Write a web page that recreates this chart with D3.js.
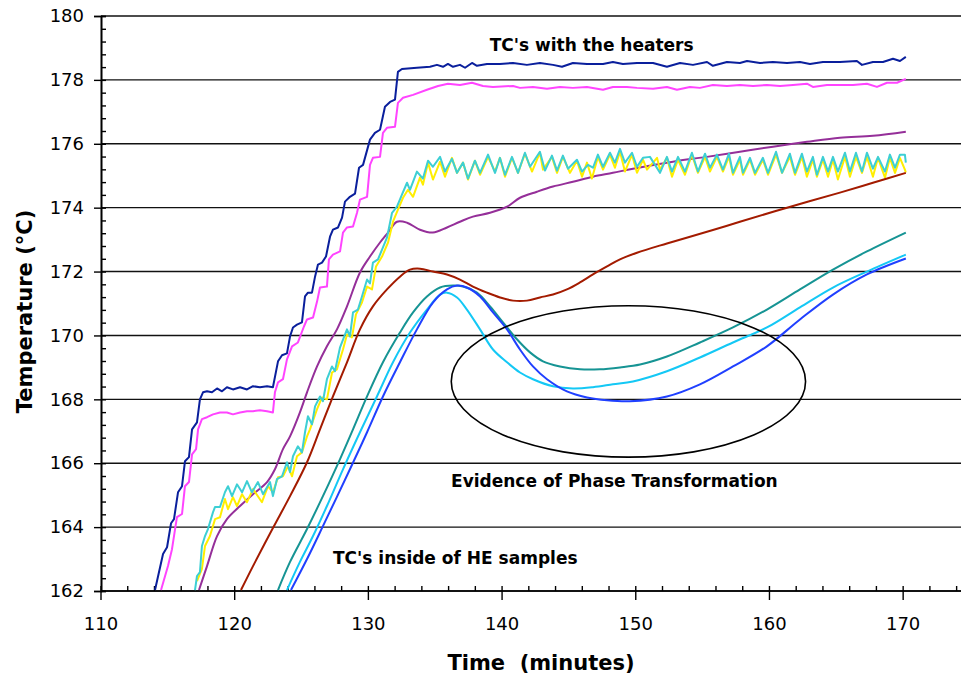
<!DOCTYPE html>
<html>
<head>
<meta charset="utf-8">
<script src="https://cdn.jsdelivr.net/npm/d3@7"></script>
<style>
  body { margin: 0; background: #fff; }
  svg text { font-family: "DejaVu Sans", sans-serif; fill: #000; }
</style>
</head>
<body>
<div id="chart"></div>
<script>
// ---- data: [time (minutes), temperature (°C)] ----
const heaterNavy = [
  [114.04,162.03],[114.64,163.16],[114.94,163.37],[115.24,164.12],[115.46,164.25],[115.76,165.09],
  [116.06,165.28],[116.28,166.06],[116.58,166.19],[116.81,167.06],[117.18,167.28],[117.40,168.0],
  [117.63,168.22],[117.93,168.25],[118.30,168.22],[118.68,168.34],[119.05,168.25],[119.42,168.38],
  [119.87,168.31],[120.40,168.38],[120.92,168.31],[121.37,168.41],[121.89,168.38],[122.42,168.41],
  [122.86,168.38],[123.24,169.19],[123.54,169.38],[123.91,169.44],[124.14,169.97],[124.36,170.25],
  [124.66,170.34],[125.03,170.41],[125.26,171.22],[125.48,171.34],[125.78,171.34],[126.01,171.84],
  [126.23,172.22],[126.53,172.28],[126.83,172.47],[127.13,173.09],[127.35,173.31],[127.73,173.38],
  [128.03,173.69],[128.25,174.19],[128.62,174.34],[129.0,174.44],[129.30,175.25],[129.60,175.34],
  [130.12,176.13],[130.49,176.34],[130.87,176.44],[131.24,177.16],[131.62,177.31],[131.99,177.38],
  [132.21,178.25],[132.51,178.34],[133.63,178.38],[134.61,178.41],[135.13,178.47],[135.58,178.41],
  [135.95,178.5],[136.33,178.41],[136.85,178.47],[137.23,178.38],[137.75,178.53],[138.12,178.44],
  [138.87,178.5],[139.84,178.5],[140.82,178.53],[141.86,178.47],[142.83,178.53],[143.81,178.47],
  [144.48,178.41],[145.30,178.53],[146.35,178.5],[147.55,178.5],[148.29,178.56],[149.04,178.5],
  [150.09,178.53],[151.29,178.53],[152.33,178.41],[153.31,178.53],[154.28,178.47],[155.33,178.56],
  [155.77,178.44],[156.82,178.56],[157.79,178.53],[158.32,178.59],[159.29,178.53],[160.26,178.56],
  [161.31,178.53],[162.28,178.56],[163.03,178.5],[164.0,178.56],[165.27,178.56],[166.54,178.59],
  [166.92,178.47],[167.74,178.56],[168.49,178.56],[169.24,178.66],[169.76,178.59],[170.2,178.72]
];

const heaterMagenta = [
  [114.49,162.03],[115.01,162.78],[115.31,163.31],[115.68,164.31],[116.06,164.41],[116.28,165.28],
  [116.58,165.41],[116.81,166.28],[117.11,166.44],[117.26,167.06],[117.55,167.38],[117.93,167.44],
  [118.38,167.53],[118.90,167.59],[119.42,167.59],[119.87,167.53],[120.40,167.59],[120.92,167.63],
  [121.37,167.63],[121.89,167.66],[122.42,167.63],[122.86,167.59],[123.01,168.22],[123.24,168.53],
  [123.61,168.63],[123.91,169.25],[124.29,169.66],[124.73,169.78],[125.18,170.28],[125.41,170.5],
  [125.86,170.56],[126.16,171.06],[126.38,171.5],[126.90,171.53],[127.05,172.38],[127.35,172.53],
  [127.88,172.63],[128.10,173.22],[128.40,173.38],[128.85,173.41],[129.15,173.84],[129.37,174.25],
  [129.90,174.34],[130.12,175.34],[130.34,175.56],[130.87,175.59],[131.09,176.34],[131.39,176.5],
  [131.99,176.53],[132.21,177.28],[132.59,177.44],[133.34,177.53],[134.38,177.69],[135.21,177.81],
  [135.95,177.88],[136.85,177.84],[137.75,177.91],[138.57,177.81],[139.32,177.78],[140.82,177.81],
  [141.34,177.75],[142.31,177.78],[143.36,177.72],[144.33,177.78],[145.30,177.75],[146.35,177.78],
  [147.55,177.69],[148.29,177.78],[149.34,177.78],[150.09,177.75],[151.29,177.72],[152.33,177.78],
  [153.08,177.69],[154.05,177.78],[154.80,177.75],[155.77,177.84],[156.82,177.81],[157.79,177.84],
  [158.77,177.81],[159.81,177.84],[160.79,177.81],[161.76,177.84],[162.80,177.88],[163.25,177.78],
  [164.30,177.84],[165.27,177.84],[166.25,177.84],[167.29,177.88],[168.04,177.78],[168.79,177.91],
  [169.54,177.91],[170.2,178.03]
];

const purpleSeries = [
  [117.33,162.03],[117.93,162.78],[118.68,163.72],[119.42,164.25],[120.40,164.66],[121.37,165.03],
  [122.42,165.41],[123.01,165.81],[123.61,166.44],[124.14,166.84],[124.88,167.59],[125.41,168.22],
  [126.16,169.03],[126.90,169.66],[127.65,170.19],[128.40,170.91],[129.37,171.97],[130.12,172.47],
  [130.87,172.91],[131.47,173.22],[132.14,173.56],[132.89,173.53],[133.86,173.31],[134.83,173.22],
  [135.88,173.38],[136.85,173.56],[137.82,173.72],[139.10,173.84],[140.37,174.03],[141.34,174.31],
  [142.61,174.5],[143.81,174.66],[145.30,174.81],[146.80,174.97],[148.29,175.09],[149.79,175.22],
  [152.78,175.44],[155.32,175.59],[157.79,175.75],[160.26,175.91],[162.80,176.06],[165.27,176.19],
  [167.74,176.25],[170.2,176.38]
];

const yellowSeries = [
  [117.18,162.31],[117.55,162.69],[117.78,163.41],[118.15,163.72],[118.53,164.25],[118.90,164.31],
  [119.27,164.88],[119.50,164.56],[119.87,164.94],[120.17,164.66],[120.55,165.03],[120.92,164.78],
  [121.37,165.19],[122.04,164.78],[122.49,165.28],[122.86,165.09],[123.24,165.56],[123.61,165.59],
  [123.99,165.91],[124.29,165.59],[124.66,166.22],[125.03,166.34],[125.41,166.84],[125.63,167.06],
  [126.16,167.69],[126.53,168.06],[126.90,168.0],[127.28,168.84],[127.65,168.94],[128.10,169.56],
  [128.40,170.03],[128.77,169.94],[129.07,170.66],[129.52,171.03],[129.90,171.53],[130.27,171.44],
  [130.57,172.16],[131.02,172.47],[131.47,172.91],[131.84,173.56],[132.21,173.94],[132.59,174.31],
  [132.96,174.56],[133.34,174.34],[133.86,174.94],[134.08,174.72],[134.46,175.41],[134.83,174.88],
  [135.36,175.44],[135.73,174.97],[136.25,175.56],[136.63,175.09],[137.08,175.41],[137.45,174.88],
  [137.97,175.47],[138.35,175.03],[138.95,175.59],[139.47,175.13],[139.84,175.56],[140.22,174.97],
  [140.74,175.56],[141.19,175.09],[141.71,175.69],[142.24,175.13],[142.83,175.72],[143.06,175.19],
  [143.73,175.59],[144.11,175.09],[144.55,175.59],[145.08,175.09],[145.60,175.47],[145.98,174.97],
  [146.35,175.41],[146.72,174.91],[147.17,175.59],[147.55,175.19],[148.07,175.66],[148.44,175.25],
  [148.82,175.75],[149.19,175.13],[149.72,175.66],[150.09,175.09],[150.54,175.5],[150.84,175.19],
  [151.59,175.56],[151.81,175.19],[152.33,175.56],[152.71,174.97],[153.16,175.5],[153.68,175.03],
  [154.20,175.66],[154.65,175.09],[155.18,175.59],[155.55,175.13],[156.07,175.59],[156.52,175.13],
  [156.97,175.59],[157.27,175.03],[157.79,175.5],[158.02,175.03],[158.54,175.5],[158.92,175.03],
  [159.51,175.5],[159.89,175.03],[160.49,175.66],[160.94,175.09],[161.53,175.59],[161.91,175.03],
  [162.43,175.59],[162.80,174.97],[163.25,175.5],[163.55,174.97],[164.0,175.5],[164.38,174.97],
  [164.75,175.5],[165.12,174.88],[165.65,175.59],[166.02,174.97],[166.47,175.59],[166.92,175.09],
  [167.29,175.59],[167.74,174.97],[168.12,175.56],[168.64,174.94],[169.01,175.56],[169.39,175.09],
  [169.76,175.56],[170.13,175.19],[170.2,175.1]
];

const turquoiseSeries = [
  [117.03,162.03],[117.18,162.47],[117.40,162.59],[117.55,163.41],[117.78,163.72],[118.0,163.94],
  [118.38,164.47],[118.53,164.63],[118.90,164.63],[119.27,165.09],[119.50,165.28],[119.80,164.97],
  [120.17,165.34],[120.55,165.09],[120.92,165.44],[121.29,165.09],[121.74,165.41],[122.12,165.03],
  [122.64,165.41],[122.86,164.97],[123.16,165.5],[123.54,165.59],[123.91,166.03],[124.14,165.72],
  [124.36,166.22],[124.73,166.53],[125.03,166.34],[125.26,166.97],[125.48,167.47],[125.78,167.22],
  [126.01,167.78],[126.38,168.09],[126.60,167.94],[126.90,168.63],[127.28,169.03],[127.50,168.88],
  [127.88,169.63],[128.40,170.19],[128.62,169.97],[128.85,170.72],[129.22,170.81],[129.52,171.22],
  [129.90,171.75],[130.12,171.63],[130.34,172.28],[130.72,172.38],[131.02,172.69],[131.39,173.06],
  [131.77,173.84],[132.14,174.03],[132.51,174.41],[132.89,174.78],[133.11,174.56],[133.63,175.13],
  [134.08,174.91],[134.46,175.47],[134.83,175.28],[135.36,175.59],[135.73,175.13],[136.25,175.53],
  [136.63,175.09],[137.08,175.41],[137.45,174.91],[137.97,175.47],[138.35,175.09],[138.95,175.66],
  [139.47,175.09],[139.84,175.56],[140.22,175.03],[140.74,175.59],[141.19,175.09],[141.71,175.72],
  [142.09,175.28],[142.83,175.75],[143.21,175.16],[143.73,175.63],[144.11,175.16],[144.55,175.63],
  [144.93,175.22],[145.60,175.5],[145.98,175.13],[146.42,175.34],[146.80,175.25],[147.17,175.66],
  [147.55,175.28],[148.07,175.72],[148.44,175.41],[148.82,175.84],[149.19,175.41],[149.72,175.72],
  [150.09,175.28],[150.54,175.56],[151.06,175.59],[151.44,175.34],[151.81,175.09],[152.33,175.59],
  [152.71,175.13],[153.16,175.59],[153.68,175.13],[154.20,175.72],[154.65,175.13],[155.18,175.69],
  [155.55,175.25],[156.07,175.66],[156.52,175.19],[156.97,175.69],[157.27,175.09],[157.79,175.59],
  [158.02,175.09],[158.54,175.56],[158.92,175.09],[159.51,175.56],[159.89,175.09],[160.49,175.75],
  [160.94,175.09],[161.53,175.69],[161.91,175.09],[162.43,175.69],[162.80,175.13],[163.25,175.59],
  [163.55,175.03],[164.0,175.59],[164.38,175.13],[164.75,175.59],[165.12,175.13],[165.65,175.72],
  [166.02,175.13],[166.47,175.72],[166.92,175.13],[167.29,175.72],[167.74,175.22],[168.12,175.59],
  [168.64,175.13],[169.01,175.66],[169.39,175.25],[169.76,175.66],[170.13,175.66],[170.2,175.41]
];

const darkRedSeries = [
  [120.47,162.03],[121.37,162.78],[122.86,163.97],[124.14,164.97],[125.41,166.03],[126.38,167.06],
  [127.35,168.09],[128.40,169.16],[129.37,170.19],[130.34,170.91],[131.39,171.44],[132.36,171.84],
  [133.11,172.06],[133.86,172.09],[134.83,172.0],[135.88,171.91],[136.85,171.75],[137.82,171.53],
  [138.87,171.34],[139.84,171.19],[140.82,171.09],[141.86,171.09],[142.83,171.19],[143.81,171.28],
  [144.85,171.44],[145.83,171.66],[146.80,171.91],[147.85,172.16],[148.82,172.38],[150.09,172.59],
  [152.33,172.88],[155.77,173.3],[157.79,173.56],[161.31,174.0],[165.27,174.47],[167.74,174.78],
  [170.2,175.09]
];

const tealSeries = [
  [123.24,162.03],[124.14,162.91],[125.41,163.94],[126.60,164.97],[127.88,166.13],[128.85,167.06],
  [129.90,168.09],[131.09,169.16],[132.36,170.09],[133.34,170.72],[134.38,171.22],[135.36,171.5],
  [136.33,171.56],[137.08,171.53],[138.12,171.34],[139.10,170.91],[140.07,170.41],[141.11,169.88],
  [142.09,169.47],[143.06,169.19],[144.33,169.03],[145.83,168.94],[147.32,168.94],[148.82,169.0],
  [150.32,169.09],[152.33,169.34],[154.80,169.78],[157.27,170.25],[159.81,170.81],[162.28,171.44],
  [164.75,172.06],[167.29,172.63],[170.2,173.22]
];

const cyanSeries = [
  [123.91,162.03],[124.88,162.91],[125.86,163.72],[126.90,164.66],[128.10,165.81],[129.37,166.97],
  [130.64,168.09],[131.84,169.16],[133.11,170.09],[134.38,170.81],[135.36,171.28],[135.88,171.34],
  [136.63,171.19],[137.37,170.81],[138.35,170.19],[139.32,169.56],[140.37,169.16],[141.34,168.84],
  [142.31,168.63],[143.81,168.41],[145.30,168.34],[146.80,168.38],[148.29,168.47],[149.79,168.56],
  [152.33,168.88],[154.80,169.31],[157.27,169.78],[159.81,170.25],[162.28,170.88],[164.75,171.5],
  [167.29,172.0],[170.2,172.53]
];

const blueSeries = [
  [124.21,162.03],[125.41,163.0],[126.60,164.03],[128.62,165.81],[129.90,166.97],[131.09,168.09],
  [132.36,169.16],[133.63,170.19],[134.83,171.03],[135.88,171.44],[136.63,171.56],[137.37,171.5],
  [138.35,171.22],[139.32,170.72],[140.37,170.19],[141.34,169.56],[142.31,169.03],[143.36,168.63],
  [144.85,168.25],[146.35,168.06],[147.85,167.97],[149.57,167.94],[152.33,168.09],[154.80,168.47],
  [157.27,169.03],[159.81,169.66],[162.28,170.5],[164.75,171.28],[167.29,171.91],[170.2,172.41]
];

const xTicks = [110, 120, 130, 140, 150, 160, 170];
const yTicks = [162, 164, 166, 168, 170, 172, 174, 176, 178, 180];

// annotation anchors in data units
const annotations = [
  { text: "TC's with the heaters", at: [146.7, 178.92] },
  { text: "Evidence of Phase Transformation", at: [148.4, 165.25] },
  { text: "TC's inside of HE samples", at: [136.5, 162.83] }
];
const ellipseCenter = [149.45, 168.56];
const ellipseRadii = [13.25, 2.37];

// ---- drawing ----
const width = 961, height = 680;
const svg = d3.select("#chart").append("svg")
  .attr("width", width)
  .attr("height", height);

const x = d3.scaleLinear().domain([110, 175]).range([101, 970]);
const y = d3.scaleLinear().domain([162, 180]).range([591, 16]);

svg.append("defs").append("clipPath").attr("id", "plot-clip")
  .append("rect")
  .attr("x", x(110)).attr("y", y(180) - 5)
  .attr("width", width - x(110)).attr("height", y(162) - y(180) + 5);

// horizontal gridlines
svg.append("g")
  .selectAll("line")
  .data(yTicks)
  .join("line")
  .attr("x1", x(110)).attr("x2", width)
  .attr("y1", d => y(d)).attr("y2", d => y(d))
  .attr("stroke", "#111")
  .attr("stroke-width", 1.4);

// y axis: major ticks outside, minor ticks inside
const yAxis = svg.append("g").attr("transform", `translate(${x(110)},0)`);
yAxis.call(d3.axisLeft(y).tickValues(yTicks).tickSize(7).tickPadding(10).tickFormat(d3.format("d")));
yAxis.append("g").call(d3.axisRight(y).tickValues(d3.range(162, 180.01, 0.4)).tickSize(5).tickFormat(""));
yAxis.selectAll(".domain").attr("stroke", "#000").attr("stroke-width", 1.6);
yAxis.selectAll(".tick line").attr("stroke", "#000").attr("stroke-width", 1.4);
yAxis.selectAll("text").style("font-size", "18px").style("font-family", "DejaVu Sans");

// x axis
const xAxis = svg.append("g").attr("transform", `translate(0,${y(162)})`);
xAxis.append("line")
  .attr("x1", x(110)).attr("x2", width)
  .attr("stroke", "#000").attr("stroke-width", 1.6);
xAxis.selectAll(".minor")
  .data(d3.range(112, 176, 2).filter(d => d % 10 !== 0))
  .join("line")
  .attr("class", "minor")
  .attr("x1", d => x(d)).attr("x2", d => x(d))
  .attr("y1", -5).attr("y2", 0)
  .attr("stroke", "#000").attr("stroke-width", 1.4);
xAxis.selectAll(".major")
  .data(xTicks)
  .join("line")
  .attr("class", "major")
  .attr("x1", d => x(d)).attr("x2", d => x(d))
  .attr("y1", -5).attr("y2", 9)
  .attr("stroke", "#000").attr("stroke-width", 1.4);
xAxis.selectAll("text")
  .data(xTicks)
  .join("text")
  .attr("x", d => x(d))
  .attr("y", 39)
  .attr("text-anchor", "middle")
  .style("font-size", "18px")
  .text(d => d);

// axis titles
svg.append("text")
  .attr("transform", `translate(32,${(y(162) + y(180)) / 2 + 8}) rotate(-90)`)
  .attr("text-anchor", "middle")
  .style("font-size", "21px")
  .style("font-weight", "bold")
  .text("Temperature (°C)");

svg.append("text")
  .attr("x", 541)
  .attr("y", 670)
  .attr("text-anchor", "middle")
  .style("font-size", "21px")
  .style("font-weight", "bold")
  .style("white-space", "pre")
  .text("Time  (minutes)");

// series
const seriesList = [
  { data: heaterNavy, color: "#0a1f9c", smooth: false },
  { data: heaterMagenta, color: "#ff44ff", smooth: false },
  { data: purpleSeries, color: "#952f99", smooth: true },
  { data: yellowSeries, color: "#ffee00", smooth: false },
  { data: turquoiseSeries, color: "#3dcfd4", smooth: false },
  { data: darkRedSeries, color: "#a31b00", smooth: true },
  { data: tealSeries, color: "#169494", smooth: true },
  { data: cyanSeries, color: "#14c8f5", smooth: true },
  { data: blueSeries, color: "#2040ff", smooth: true }
];

const plot = svg.append("g").attr("clip-path", "url(#plot-clip)");

seriesList.forEach(s => {
  const line = d3.line()
    .x(d => x(d[0]))
    .y(d => y(d[1]))
    .curve(s.smooth ? d3.curveCatmullRom.alpha(0.5) : d3.curveLinear);
  plot.append("path")
    .datum(s.data)
    .attr("fill", "none")
    .attr("stroke", s.color)
    .attr("stroke-width", 2)
    .attr("stroke-linejoin", "round")
    .attr("d", line);
});

// ellipse annotation
svg.append("ellipse")
  .attr("cx", x(ellipseCenter[0]))
  .attr("cy", y(ellipseCenter[1]))
  .attr("rx", x(ellipseCenter[0] + ellipseRadii[0]) - x(ellipseCenter[0]))
  .attr("ry", y(ellipseCenter[1] - ellipseRadii[1]) - y(ellipseCenter[1]))
  .attr("fill", "none")
  .attr("stroke", "#000")
  .attr("stroke-width", 1.6);

// labels
svg.selectAll(".annot")
  .data(annotations)
  .join("text")
  .attr("class", "annot")
  .attr("x", d => x(d.at[0]))
  .attr("y", d => y(d.at[1]))
  .attr("text-anchor", "middle")
  .style("font-size", "17px")
  .style("font-weight", "bold")
  .text(d => d.text);
</script>
</body>
</html>
